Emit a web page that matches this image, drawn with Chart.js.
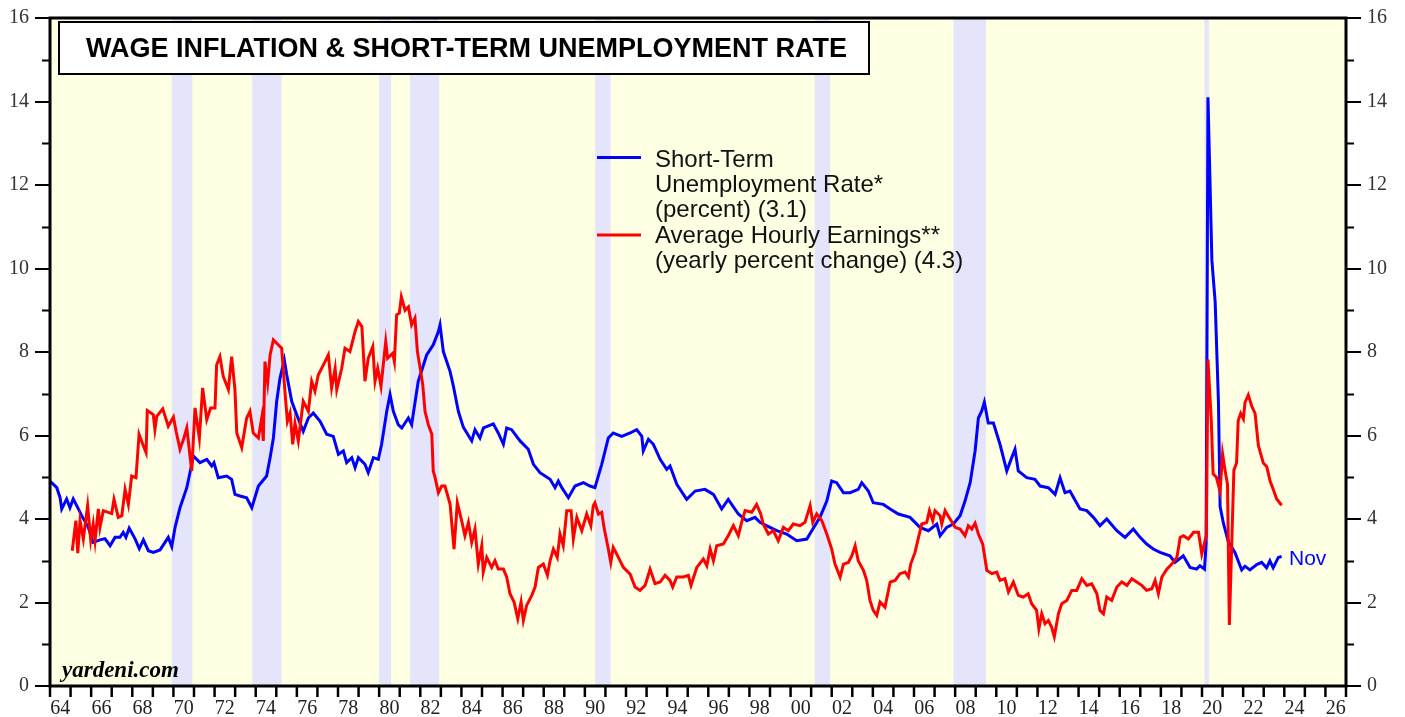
<!DOCTYPE html>
<html>
<head>
<meta charset="utf-8">
<script src="https://cdn.jsdelivr.net/npm/chart.js@4.4.0/dist/chart.umd.min.js"></script>
<style>
  html, body { margin: 0; padding: 0; background: #fff; }
  #wrap { width: 1405px; height: 717px; }
</style>
</head>
<body>
<div id="wrap"><canvas id="wageChart" width="1405" height="717"></canvas></div>
<script>
// short-term unemployment rate (percent)
const unempYears = [1964.00, 1964.08, 1964.33, 1964.49, 1964.57, 1964.81, 1964.97, 1965.13, 1965.30, 1965.54, 1965.86,
    1966.10, 1966.43, 1966.67, 1966.92, 1967.16, 1967.40, 1967.56, 1967.69, 1967.85, 1968.13, 1968.34, 1968.54, 1968.78,
    1969.02, 1969.35, 1969.75, 1969.92, 1970.08, 1970.32, 1970.65, 1970.89, 1970.97, 1971.29, 1971.62, 1971.86, 1971.97,
    1972.18, 1972.59, 1972.83, 1972.99, 1973.24, 1973.56, 1973.81, 1974.13, 1974.53, 1974.70, 1974.86, 1975.02, 1975.18,
    1975.39, 1975.51, 1975.75, 1975.99, 1976.31, 1976.56, 1976.80, 1977.13, 1977.45, 1977.77, 1978.02, 1978.26, 1978.42,
    1978.67, 1978.83, 1978.99, 1979.31, 1979.47, 1979.72, 1979.96, 1980.12, 1980.37, 1980.53, 1980.69, 1980.93, 1981.10,
    1981.42, 1981.58, 1981.90, 1982.31, 1982.63, 1982.88, 1982.96, 1983.12, 1983.45, 1983.61, 1983.85, 1984.09, 1984.50,
    1984.66, 1984.90, 1985.07, 1985.55, 1985.79, 1986.04, 1986.20, 1986.44, 1986.85, 1987.25, 1987.50, 1987.82, 1988.31,
    1988.55, 1988.71, 1988.88, 1989.20, 1989.52, 1989.93, 1990.25, 1990.49, 1990.82, 1991.14, 1991.38, 1991.79, 1992.20,
    1992.52, 1992.77, 1992.84, 1993.09, 1993.33, 1993.66, 1993.98, 1994.14, 1994.47, 1994.95, 1995.36, 1995.84, 1996.25,
    1996.65, 1996.97, 1997.46, 1997.87, 1998.27, 1998.51, 1999.00, 1999.33, 1999.81, 2000.30, 2000.79, 2001.03, 2001.43,
    2001.76, 2002.00, 2002.24, 2002.57, 2002.89, 2003.29, 2003.46, 2003.78, 2004.02, 2004.51, 2004.84, 2005.24, 2005.81,
    2006.29, 2006.70, 2007.11, 2007.27, 2007.59, 2007.91, 2008.24, 2008.48, 2008.73, 2008.97, 2009.13, 2009.29, 2009.42,
    2009.61, 2009.86, 2010.18, 2010.51, 2010.75, 2010.91, 2011.07, 2011.48, 2011.88, 2012.13, 2012.53, 2012.86, 2013.10,
    2013.34, 2013.58, 2014.07, 2014.40, 2014.72, 2015.04, 2015.37, 2015.86, 2016.26, 2016.66, 2016.99, 2017.31, 2017.63,
    2017.96, 2018.44, 2018.69, 2019.09, 2019.42, 2019.74, 2019.90, 2020.12, 2020.20, 2020.29, 2020.48, 2020.64, 2020.80,
    2020.88, 2021.04, 2021.28, 2021.60, 2021.93, 2022.09, 2022.33, 2022.66, 2022.90, 2023.14, 2023.30, 2023.46, 2023.71,
    2023.87];
const unempRate = [4.90, 4.87, 4.75, 4.51, 4.24, 4.48, 4.27, 4.48, 4.32, 4.08, 3.80,
    3.44, 3.50, 3.53, 3.36, 3.56, 3.56, 3.68, 3.56, 3.78, 3.53, 3.29, 3.50, 3.24,
    3.20, 3.26, 3.56, 3.34, 3.80, 4.27, 4.75, 5.31, 5.51, 5.35, 5.43, 5.27, 5.35,
    4.99, 5.03, 4.95, 4.59, 4.55, 4.51, 4.27, 4.79, 5.03, 5.47, 5.94, 6.82, 7.37,
    7.81, 7.45, 6.82, 6.50, 6.10, 6.42, 6.54, 6.34, 6.03, 5.98, 5.55, 5.63, 5.35,
    5.47, 5.23, 5.47, 5.31, 5.11, 5.47, 5.43, 5.79, 6.58, 6.98, 6.58, 6.26, 6.18,
    6.42, 6.26, 7.30, 7.93, 8.17, 8.49, 8.65, 8.01, 7.53, 7.18, 6.58, 6.20, 5.87,
    6.14, 5.94, 6.18, 6.28, 6.06, 5.79, 6.18, 6.14, 5.87, 5.67, 5.31, 5.11, 4.95,
    4.75, 4.91, 4.75, 4.51, 4.79, 4.87, 4.79, 4.75, 5.31, 5.94, 6.06, 5.98, 6.06,
    6.14, 5.98, 5.63, 5.91, 5.79, 5.43, 5.19, 5.27, 4.83, 4.47, 4.67, 4.71, 4.59,
    4.24, 4.47, 4.12, 3.96, 4.04, 3.92, 3.80, 3.72, 3.64, 3.48, 3.52, 3.72, 4.04,
    4.43, 4.91, 4.87, 4.63, 4.63, 4.71, 4.87, 4.67, 4.39, 4.35, 4.24, 4.12, 4.04,
    3.80, 3.72, 3.88, 3.60, 3.80, 3.88, 4.08, 4.43, 4.87, 5.63, 6.42, 6.58, 6.80,
    6.30, 6.30, 5.79, 5.15, 5.47, 5.67, 5.15, 4.99, 4.95, 4.79, 4.75, 4.59, 4.99,
    4.63, 4.67, 4.24, 4.20, 4.04, 3.84, 4.00, 3.72, 3.56, 3.76, 3.56, 3.40, 3.28,
    3.20, 3.12, 2.96, 3.12, 2.84, 2.80, 2.88, 2.80, 3.40, 14.10, 10.20, 9.20, 6.80,
    4.30, 3.90, 3.46, 3.20, 2.78, 2.87, 2.78, 2.91, 2.96, 2.83, 3.00, 2.83, 3.08,
    3.10];

// average hourly earnings (yearly percent change)
const wageYears = [1965.08, 1965.26, 1965.35, 1965.46, 1965.62, 1965.83, 1965.98, 1966.10, 1966.19, 1966.35, 1966.43,
    1966.59, 1967.00, 1967.11, 1967.32, 1967.49, 1967.65, 1967.81, 1967.97, 1968.18, 1968.33, 1968.54, 1968.67, 1968.73,
    1969.02, 1969.10, 1969.19, 1969.48, 1969.75, 1970.00, 1970.13, 1970.32, 1970.51, 1970.65, 1970.89, 1971.05, 1971.26,
    1971.42, 1971.62, 1971.81, 1972.02, 1972.10, 1972.26, 1972.42, 1972.67, 1972.83, 1972.99, 1973.08, 1973.32, 1973.56,
    1973.72, 1973.88, 1974.13, 1974.29, 1974.37, 1974.45, 1974.58, 1974.70, 1974.86, 1975.02, 1975.26, 1975.42, 1975.54,
    1975.67, 1975.80, 1975.91, 1976.07, 1976.31, 1976.56, 1976.72, 1976.88, 1977.04, 1977.37, 1977.53, 1977.69, 1977.86,
    1977.94, 1978.18, 1978.34, 1978.58, 1978.83, 1978.99, 1979.16, 1979.31, 1979.47, 1979.69, 1979.80, 1979.93, 1980.09,
    1980.32, 1980.41, 1980.66, 1980.74, 1980.85, 1980.98, 1981.08, 1981.26, 1981.42, 1981.58, 1981.74, 1981.86, 1982.02,
    1982.12, 1982.23, 1982.39, 1982.56, 1982.63, 1982.72, 1982.88, 1983.04, 1983.20, 1983.45, 1983.64, 1983.80, 1984.01,
    1984.17, 1984.34, 1984.50, 1984.66, 1984.82, 1984.99, 1985.06, 1985.23, 1985.47, 1985.63, 1985.79, 1986.04, 1986.20,
    1986.36, 1986.56, 1986.74, 1986.90, 1987.01, 1987.17, 1987.42, 1987.58, 1987.74, 1987.98, 1988.18, 1988.31, 1988.47,
    1988.66, 1988.79, 1988.95, 1989.12, 1989.33, 1989.44, 1989.61, 1989.85, 1990.09, 1990.29, 1990.41, 1990.49, 1990.66,
    1990.82, 1990.93, 1991.14, 1991.26, 1991.38, 1991.63, 1991.87, 1992.20, 1992.44, 1992.68, 1992.93, 1993.17, 1993.41,
    1993.66, 1993.90, 1994.14, 1994.27, 1994.47, 1994.79, 1995.03, 1995.16, 1995.44, 1995.76, 1995.93, 1996.09, 1996.25,
    1996.41, 1996.73, 1996.97, 1997.22, 1997.46, 1997.62, 1997.79, 1998.11, 1998.35, 1998.55, 1998.67, 1998.92, 1999.16,
    1999.40, 1999.65, 1999.89, 2000.13, 2000.46, 2000.70, 2000.95, 2001.08, 2001.27, 2001.52, 2001.76, 2002.00, 2002.16,
    2002.41, 2002.57, 2002.81, 2002.98, 2003.14, 2003.29, 2003.54, 2003.70, 2003.86, 2004.02, 2004.19, 2004.35, 2004.59,
    2004.84, 2005.08, 2005.32, 2005.57, 2005.73, 2005.84, 2006.05, 2006.22, 2006.38, 2006.62, 2006.75, 2006.91, 2007.02,
    2007.27, 2007.35, 2007.51, 2007.75, 2008.00, 2008.24, 2008.48, 2008.64, 2008.81, 2008.97, 2009.13, 2009.34, 2009.54,
    2009.78, 2010.02, 2010.18, 2010.42, 2010.59, 2010.83, 2011.07, 2011.31, 2011.55, 2011.72, 2011.96, 2012.07, 2012.21,
    2012.37, 2012.53, 2012.69, 2012.82, 2013.02, 2013.18, 2013.43, 2013.67, 2013.91, 2014.16, 2014.40, 2014.64, 2014.89,
    2015.04, 2015.21, 2015.37, 2015.61, 2015.86, 2016.10, 2016.35, 2016.59, 2016.83, 2017.07, 2017.31, 2017.56, 2017.72,
    2017.88, 2018.05, 2018.29, 2018.53, 2018.78, 2018.94, 2019.10, 2019.34, 2019.59, 2019.83, 2019.99, 2020.15, 2020.21,
    2020.29, 2020.45, 2020.54, 2020.70, 2020.88, 2021.00, 2021.12, 2021.24, 2021.33, 2021.45, 2021.55, 2021.68, 2021.76,
    2021.88, 2022.01, 2022.09, 2022.25, 2022.42, 2022.58, 2022.74, 2022.98, 2023.15, 2023.31, 2023.47, 2023.63, 2023.87];
const wageGrowth = [3.24, 3.96, 3.18, 3.96, 3.52, 4.32, 3.50, 3.88, 3.48, 4.24, 3.80,
    4.20, 4.13, 4.47, 4.04, 4.08, 4.71, 4.35, 5.03, 4.99, 6.03, 5.75, 5.59, 6.60,
    6.50, 6.14, 6.46, 6.64, 6.22, 6.44, 6.10, 5.67, 5.94, 6.18, 5.15, 6.66, 5.94,
    7.14, 6.38, 6.66, 6.66, 7.69, 7.89, 7.42, 7.10, 7.89, 7.10, 6.06, 5.71, 6.42,
    6.58, 6.06, 5.94, 6.42, 5.87, 7.77, 7.26, 7.93, 8.29, 8.21, 8.09, 7.06, 6.34,
    6.54, 5.79, 6.30, 5.87, 6.82, 6.58, 7.30, 7.06, 7.45, 7.77, 7.93, 7.14, 7.61,
    7.10, 7.61, 8.09, 8.01, 8.49, 8.73, 8.61, 7.30, 7.85, 8.13, 7.30, 7.61, 7.18,
    8.25, 7.85, 7.97, 7.77, 8.89, 8.93, 9.32, 9.00, 9.08, 8.65, 8.81, 8.01, 7.53,
    7.21, 6.58, 6.26, 6.03, 5.15, 4.99, 4.63, 4.79, 4.79, 4.35, 3.28, 4.39, 3.96,
    3.60, 3.92, 3.44, 3.76, 2.92, 3.36, 2.73, 3.08, 2.84, 3.00, 2.80, 2.80, 2.61,
    2.21, 2.01, 1.61, 2.01, 1.57, 1.93, 2.17, 2.37, 2.84, 2.92, 2.65, 3.00, 3.28,
    3.08, 3.64, 3.36, 4.20, 4.20, 3.52, 4.04, 3.72, 4.12, 3.84, 4.32, 4.39, 4.12,
    4.16, 3.80, 3.28, 2.96, 3.32, 3.08, 2.84, 2.68, 2.37, 2.29, 2.41, 2.80, 2.45,
    2.49, 2.65, 2.53, 2.37, 2.61, 2.61, 2.65, 2.41, 2.84, 3.04, 2.88, 3.28, 3.00,
    3.36, 3.40, 3.60, 3.84, 3.60, 3.92, 4.20, 4.16, 4.35, 4.12, 3.88, 3.64, 3.72,
    3.48, 3.80, 3.72, 3.88, 3.84, 3.92, 4.32, 3.92, 4.12, 3.96, 3.64, 3.28, 2.92,
    2.61, 2.92, 2.96, 3.12, 3.36, 3.00, 2.77, 2.53, 2.05, 1.81, 1.69, 2.01, 1.89,
    2.49, 2.53, 2.69, 2.73, 2.61, 2.92, 3.20, 3.56, 3.88, 3.92, 4.20, 3.96, 4.20,
    4.08, 3.88, 4.20, 4.00, 3.80, 3.76, 3.60, 3.84, 3.76, 3.90, 3.64, 3.40, 2.77,
    2.69, 2.73, 2.53, 2.57, 2.25, 2.49, 2.17, 2.13, 2.21, 1.97, 1.81, 1.37, 1.73,
    1.49, 1.57, 1.41, 1.18, 1.73, 1.97, 2.05, 2.29, 2.29, 2.57, 2.41, 2.45, 2.21,
    1.81, 1.73, 2.13, 2.05, 2.37, 2.49, 2.41, 2.57, 2.49, 2.41, 2.29, 2.33, 2.53,
    2.21, 2.61, 2.80, 2.92, 3.08, 3.56, 3.60, 3.52, 3.68, 3.68, 3.16, 3.48, 3.60,
    7.82, 6.37, 5.08, 5.00, 4.66, 5.56, 5.17, 4.83, 1.46, 3.46, 5.17, 5.34, 6.36,
    6.53, 6.40, 6.79, 6.97, 6.70, 6.53, 5.76, 5.34, 5.25, 4.91, 4.70, 4.48, 4.33];

// recessions (shaded)
const recessionStart = [1969.92, 1973.83, 1980.00, 1981.50, 1990.50, 2001.17, 2007.92, 2020.12];
const recessionEnd   = [1970.92, 1975.25, 1980.58, 1982.92, 1991.25, 2001.92, 2009.50, 2020.33];

const yTicks = [0, 2, 4, 6, 8, 10, 12, 14, 16];
const xLabelYears = [1964, 1966, 1968, 1970, 1972, 1974, 1976, 1978, 1980, 1982, 1984, 1986, 1988, 1990, 1992,
    1994, 1996, 1998, 2000, 2002, 2004, 2006, 2008, 2010, 2012, 2014, 2016, 2018, 2020, 2022, 2024, 2026];

const chartTitle = 'WAGE INFLATION & SHORT-TERM UNEMPLOYMENT RATE';
const legendUnemp = ['Short-Term', 'Unemployment Rate*', '(percent) (3.1)'];
const legendWage = ['Average Hourly Earnings**', '(yearly percent change) (4.3)'];

const toPoints = (xs, ys) => xs.map((x, i) => ({ x: x, y: ys[i] }));

const decor = {
    id: 'decor',
    beforeDraw(chart) {
        const { ctx, chartArea } = chart;
        ctx.save();
        ctx.fillStyle = '#FFFFE3';
        ctx.fillRect(chartArea.left, chartArea.top, chartArea.right - chartArea.left, chartArea.bottom - chartArea.top);
        ctx.restore();
    },
    beforeDatasetsDraw(chart) {
        const { ctx, chartArea, scales } = chart;
        ctx.save();
        ctx.fillStyle = '#E4E4FA';
        recessionStart.forEach((s, i) => {
            const x0 = scales.x.getPixelForValue(s);
            const x1 = scales.x.getPixelForValue(recessionEnd[i]);
            ctx.fillRect(x0, chartArea.top, x1 - x0, chartArea.bottom - chartArea.top);
        });
        ctx.restore();
    },
    afterDatasetsDraw(chart) {
        const { ctx, chartArea, scales } = chart;
        const x = scales.x, y = scales.y;
        ctx.save();

        // frame
        ctx.strokeStyle = '#000';
        ctx.lineWidth = 3;
        ctx.strokeRect(chartArea.left, chartArea.top, chartArea.right - chartArea.left, chartArea.bottom - chartArea.top);

        // minor y ticks on both sides
        ctx.lineWidth = 2;
        for (let v = 1; v < 16; v += 2) {
            const py = Math.round(y.getPixelForValue(v)) + 0.5;
            ctx.beginPath();
            ctx.moveTo(chartArea.left - 8, py);
            ctx.lineTo(chartArea.left, py);
            ctx.moveTo(chartArea.right, py);
            ctx.lineTo(chartArea.right + 8, py);
            ctx.stroke();
        }

        // yearly x ticks
        ctx.lineWidth = 2.5;
        for (let yr = 1964; yr <= 2027; yr++) {
            const px = x.getPixelForValue(yr);
            ctx.beginPath();
            ctx.moveTo(px, chartArea.bottom);
            ctx.lineTo(px, chartArea.bottom + 11);
            ctx.stroke();
        }

        // year labels sit in the middle of the year
        ctx.fillStyle = '#222';
        ctx.font = '20px "Liberation Serif"';
        ctx.textAlign = 'center';
        ctx.textBaseline = 'alphabetic';
        xLabelYears.forEach(yr => {
            ctx.fillText(String(yr).slice(2), x.getPixelForValue(yr + 0.5), 714);
        });

        // title box
        ctx.fillStyle = '#fff';
        ctx.fillRect(59, 22, 810, 52);
        ctx.lineWidth = 2;
        ctx.strokeStyle = '#000';
        ctx.strokeRect(59, 22, 810, 52);
        ctx.fillStyle = '#000';
        ctx.textAlign = 'left';
        ctx.font = 'bold 27px "Liberation Sans"';
        ctx.fillText(chartTitle, 86, 57);

        // legend
        ctx.lineWidth = 2.8;
        ctx.strokeStyle = '#0000FF';
        ctx.beginPath();
        ctx.moveTo(597, 157.5);
        ctx.lineTo(641, 157.5);
        ctx.stroke();
        ctx.strokeStyle = '#FF0000';
        ctx.beginPath();
        ctx.moveTo(597, 235);
        ctx.lineTo(641, 235);
        ctx.stroke();

        ctx.fillStyle = '#111';
        ctx.font = '24px "Liberation Sans"';
        legendUnemp.forEach((t, i) => ctx.fillText(t, 655, 167 + i * 25));
        legendWage.forEach((t, i) => ctx.fillText(t, 655, 243 + i * 25));

        // last reading tag
        ctx.fillStyle = '#0000FF';
        ctx.font = '21px "Liberation Sans"';
        ctx.fillText('Nov', 1289, 565);

        ctx.fillStyle = '#000';
        ctx.font = 'italic bold 23px "Liberation Serif"';
        ctx.fillText('yardeni.com', 62, 677);

        ctx.restore();
    }
};

const yAxis = (position) => ({
    type: 'linear',
    position: position,
    min: 0,
    max: 16,
    border: { display: false },
    grid: {
        drawOnChartArea: false,
        drawTicks: true,
        tickLength: 15,
        color: '#000',
        lineWidth: 2
    },
    ticks: {
        stepSize: 2,
        padding: 6,
        color: '#333',
        font: { family: 'Liberation Serif', size: 20 },
        callback: (v) => yTicks.includes(v) ? String(v) : ''
    },
    afterFit: (scale) => { scale.width = position === 'left' ? 50 : 59; }
});

const ctx = document.getElementById('wageChart').getContext('2d');
const wageChart = new Chart(ctx, {
    type: 'line',
    data: {
        datasets: [{
            label: 'Average Hourly Earnings',
            data: toPoints(wageYears, wageGrowth),
            borderColor: '#FF0000',
            borderWidth: 3,
            pointRadius: 0,
            tension: 0,
            yAxisID: 'y'
        }, {
            label: 'Short-Term Unemployment Rate',
            data: toPoints(unempYears, unempRate),
            borderColor: '#0000FF',
            borderWidth: 3,
            pointRadius: 0,
            tension: 0,
            yAxisID: 'y'
        }]
    },
    options: {
        responsive: false,
        animation: false,
        devicePixelRatio: 1,
        layout: { padding: { top: 14, bottom: 31, left: 0, right: 0 } },
        plugins: {
            legend: { display: false },
            tooltip: { enabled: false },
            title: { display: false }
        },
        scales: {
            x: {
                type: 'linear',
                min: 1964,
                max: 2027,
                display: false
            },
            y: yAxis('left'),
            y1: yAxis('right')
        }
    },
    plugins: [decor]
});
</script>
</body>
</html>
